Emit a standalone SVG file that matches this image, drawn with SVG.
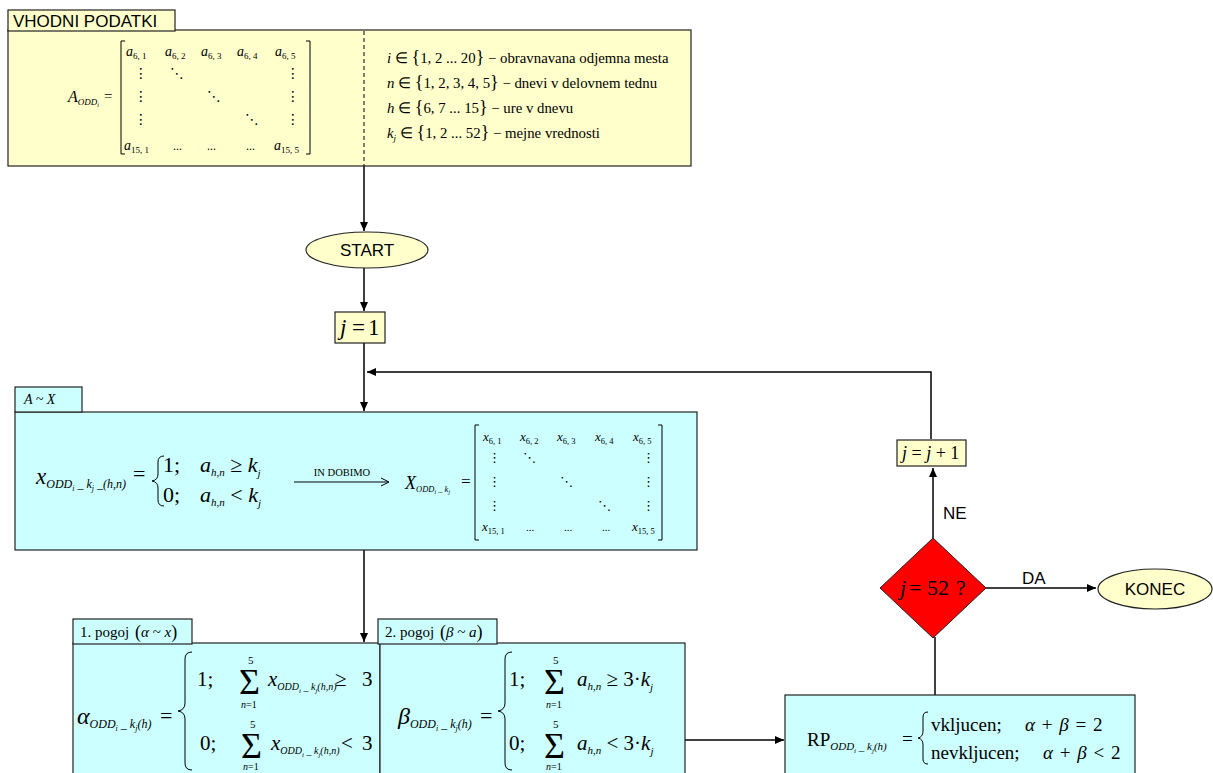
<svg xmlns="http://www.w3.org/2000/svg" width="1213" height="773" viewBox="0 0 1213 773">
<style>
.y{fill:#FFFFCC;stroke:#222;stroke-width:1.2}
.c{fill:#CCFFFF;stroke:#222;stroke-width:1.2}
.ln{fill:none;stroke:#000;stroke-width:1.5}
.br{fill:none;stroke:#000;stroke-width:1}
.m{font-family:"Liberation Serif","Times New Roman",serif;font-style:italic;fill:#000}
.r{font-family:"Liberation Serif","Times New Roman",serif;font-style:normal;fill:#000}
.s{font-family:"Liberation Sans",Arial,sans-serif;fill:#000}
.d{font-family:"DejaVu Sans",sans-serif;font-style:normal;fill:#000}
</style>
<defs>
<marker id="ah" markerWidth="10" markerHeight="10" refX="9" refY="5" orient="auto" markerUnits="userSpaceOnUse">
<path d="M0,1 L9,5 L0,9 Z" fill="#000"/>
</marker>
</defs>

<g id="connectors">
<line class="ln" x1="364" y1="166" x2="364" y2="231" marker-end="url(#ah)"/>
<line class="ln" x1="364" y1="268" x2="364" y2="311" marker-end="url(#ah)"/>
<line class="ln" x1="364" y1="343" x2="364" y2="411" marker-end="url(#ah)"/>
<polyline class="ln" points="931,439 931,372 367,372" marker-end="url(#ah)"/>
<line class="ln" x1="364" y1="550" x2="364" y2="642" marker-end="url(#ah)"/>
<line class="ln" x1="685" y1="740" x2="784" y2="740" marker-end="url(#ah)"/>
<line class="ln" x1="935" y1="695" x2="935" y2="637"/>
<line class="ln" x1="933" y1="538" x2="933" y2="468" marker-end="url(#ah)"/>
<line class="ln" x1="986" y1="588" x2="1096" y2="588" marker-end="url(#ah)"/>
<text class="s" x="943" y="519" font-size="17">NE</text>
<text class="s" x="1022" y="584" font-size="17">DA</text>
</g>

<g id="vhodni-podatki">
<rect class="y" x="8" y="30" width="683" height="136"/>
<rect class="y" x="8" y="10" width="167" height="21"/>
<text class="s" x="13" y="27" font-size="17">VHODNI PODATKI</text>
<line x1="364" y1="31" x2="364" y2="166" stroke="#000" stroke-width="1" stroke-dasharray="4,3"/>
<text class="m" x="68" y="102" font-size="16">A<tspan font-size="9" dy="3">ODD</tspan><tspan font-size="6" dy="2">i</tspan></text>
<text class="r" x="104" y="101" font-size="15">=</text>
<path class="br" d="M125,41 h-4 v113 h4 M306,41 h4 v113 h-4"/>
<g font-size="14">
<text class="m" x="126" y="56">a<tspan class="r" font-size="9" dy="3">6, 1</tspan></text>
<text class="m" x="165" y="56">a<tspan class="r" font-size="9" dy="3">6, 2</tspan></text>
<text class="m" x="201" y="56">a<tspan class="r" font-size="9" dy="3">6, 3</tspan></text>
<text class="m" x="237" y="56">a<tspan class="r" font-size="9" dy="3">6, 4</tspan></text>
<text class="m" x="275" y="56">a<tspan class="r" font-size="9" dy="3">6, 5</tspan></text>
<text class="m" x="124" y="150">a<tspan class="r" font-size="9" dy="3">15, 1</tspan></text>
<text class="r" x="173" y="150" font-size="12">...</text>
<text class="r" x="207" y="150" font-size="12">...</text>
<text class="r" x="246" y="150" font-size="12">...</text>
<text class="m" x="274" y="150">a<tspan class="r" font-size="9" dy="3">15, 5</tspan></text>
</g>
<g font-size="14">
<text class="d" x="134" y="78">⋮</text><text class="d" x="134" y="101">⋮</text><text class="d" x="134" y="124">⋮</text>
<text class="d" x="286" y="78">⋮</text><text class="d" x="286" y="101">⋮</text><text class="d" x="286" y="124">⋮</text>
<text class="d" x="170" y="78">⋱</text><text class="d" x="207" y="101">⋱</text><text class="d" x="245" y="124">⋱</text>
</g>
<g font-size="14.8">
<text class="r" x="387" y="63"><tspan class="m">i</tspan> ∈ <tspan font-size="18">{</tspan>1, 2 ... 20<tspan font-size="18">}</tspan> − obravnavana odjemna mesta</text>
<text class="r" x="387" y="88"><tspan class="m">n</tspan> ∈ <tspan font-size="18">{</tspan>1, 2, 3, 4, 5<tspan font-size="18">}</tspan> − dnevi  v delovnem tednu</text>
<text class="r" x="387" y="113"><tspan class="m">h</tspan> ∈ <tspan font-size="18">{</tspan>6, 7 ... 15<tspan font-size="18">}</tspan> − ure v dnevu</text>
<text class="r" x="387" y="138"><tspan class="m">k</tspan><tspan class="m" font-size="9" dy="3">j</tspan><tspan dy="-3"> ∈ </tspan><tspan font-size="18">{</tspan>1, 2 ... 52<tspan font-size="18">}</tspan> − mejne vrednosti</text>
</g>
</g>

<g id="start">
<ellipse class="y" cx="367" cy="250" rx="61" ry="18"/>
<text class="s" x="367" y="256" font-size="17" text-anchor="middle">START</text>
</g>

<g id="j-init">
<rect class="y" x="335" y="312" width="50" height="31"/>
<text class="m" x="340" y="335" font-size="23">j<tspan class="r" x="352">=</tspan><tspan class="r" x="368">1</tspan></text>
</g>

<g id="a-x">
<rect class="c" x="15" y="412" width="682" height="138"/>
<rect class="c" x="15" y="387" width="67" height="25"/>
<text class="m" x="24" y="404" font-size="14">A  ~  X</text>
<text class="m" x="36" y="484" font-size="23">x<tspan font-size="12" dy="4">ODD</tspan><tspan font-size="8" dy="3">i</tspan><tspan font-size="12" dy="-3"> _ k</tspan><tspan font-size="8" dy="3">j</tspan><tspan font-size="12" dy="-3"> _(h,n)</tspan></text>
<text class="r" x="133" y="481" font-size="22">=</text>
<path class="br" stroke-width="1.4" d="M164,456 q-6,0 -6,6 v12 q0,6 -6,7 q6,1 6,7 v12 q0,6 6,6"/>
<text class="r" x="163" y="472" font-size="22">1;</text>
<text class="m" x="200" y="472" font-size="22">a<tspan font-size="11" dy="4">h,n</tspan><tspan class="r" dy="-4"> ≥ </tspan>k<tspan font-size="11" dy="5">j</tspan></text>
<text class="r" x="163" y="502" font-size="22">0;</text>
<text class="m" x="200" y="502" font-size="22">a<tspan font-size="11" dy="4">h,n</tspan><tspan class="r" dy="-4"> &lt; </tspan>k<tspan font-size="11" dy="5">j</tspan></text>
<text class="r" x="342" y="476" font-size="10.5" text-anchor="middle">IN DOBIMO</text>
<line x1="294" y1="482" x2="388" y2="482" stroke="#000" stroke-width="1"/>
<path d="M381,478 L389,482 L381,486" fill="none" stroke="#000" stroke-width="1"/>
<text class="m" x="405" y="489" font-size="18">X<tspan font-size="8.5" dy="3">ODD</tspan><tspan font-size="6" dy="2">i</tspan><tspan font-size="8.5" dy="-2"> _ k</tspan><tspan font-size="6" dy="2">j</tspan></text>
<text class="r" x="461" y="487" font-size="17">=</text>
<path class="br" d="M479,425 h-4 v115 h4 M658,425 h4 v115 h-4"/>
<g font-size="13">
<text class="m" x="483" y="441">x<tspan class="r" font-size="8.5" dy="3">6, 1</tspan></text>
<text class="m" x="520" y="441">x<tspan class="r" font-size="8.5" dy="3">6, 2</tspan></text>
<text class="m" x="557" y="441">x<tspan class="r" font-size="8.5" dy="3">6, 3</tspan></text>
<text class="m" x="595" y="441">x<tspan class="r" font-size="8.5" dy="3">6, 4</tspan></text>
<text class="m" x="633" y="441">x<tspan class="r" font-size="8.5" dy="3">6, 5</tspan></text>
<text class="m" x="482" y="531">x<tspan class="r" font-size="8.5" dy="3">15, 1</tspan></text>
<text class="r" x="526" y="531" font-size="11">...</text>
<text class="r" x="564" y="531" font-size="11">...</text>
<text class="r" x="602" y="531" font-size="11">...</text>
<text class="m" x="632" y="531">x<tspan class="r" font-size="8.5" dy="3">15, 5</tspan></text>
</g>
<g font-size="13">
<text class="d" x="488" y="462">⋮</text><text class="d" x="488" y="486">⋮</text><text class="d" x="488" y="510">⋮</text>
<text class="d" x="642" y="462">⋮</text><text class="d" x="642" y="486">⋮</text><text class="d" x="642" y="510">⋮</text>
<text class="d" x="523" y="462">⋱</text><text class="d" x="560" y="486">⋱</text><text class="d" x="598" y="510">⋱</text>
</g>
</g>

<g id="pogoj-1">
<rect class="c" x="73" y="643" width="307" height="140"/>
<rect class="c" x="73" y="619" width="119" height="25"/>
<text class="r" x="80" y="637" font-size="15">1. pogoj</text>
<text class="r" x="135" y="638" font-size="18">(<tspan class="m" font-size="15" dy="-1">α ~ x</tspan><tspan dy="1">)</tspan></text>
<text class="m" x="77" y="724" font-size="24">α<tspan font-size="12" dy="4">ODD</tspan><tspan font-size="8" dy="3">i</tspan><tspan font-size="12" dy="-3"> _ k</tspan><tspan font-size="8" dy="3">j</tspan><tspan font-size="12" dy="-3">(h)</tspan></text>
<text class="r" x="160" y="723" font-size="22">=</text>
<path class="br" stroke-width="1.4" d="M192,652 q-7,0 -7,7 v44 q0,7 -7,8 q7,1 7,8 v44 q0,7 7,7"/>
<text class="r" x="197" y="686" font-size="21">1;</text>
<text class="r" x="239" y="694" font-size="36">Σ</text>
<text class="r" x="248" y="664" font-size="11">5</text>
<text class="m" x="241" y="708" font-size="10">n<tspan class="r">=1</tspan></text>
<text class="m" x="268" y="686" font-size="21">x<tspan font-size="10" dy="4">ODD</tspan><tspan font-size="7" dy="3">i</tspan><tspan font-size="10" dy="-3"> _ k</tspan><tspan font-size="7" dy="3">j</tspan><tspan font-size="10" dy="-3">(h,n)</tspan></text>
<text class="r" x="335" y="686" font-size="21">≥</text>
<text class="r" x="362" y="686" font-size="21">3</text>
<text class="r" x="200" y="750" font-size="21">0;</text>
<text class="r" x="241" y="758" font-size="36">Σ</text>
<text class="r" x="250" y="728" font-size="11">5</text>
<text class="m" x="243" y="770" font-size="10">n<tspan class="r">=1</tspan></text>
<text class="m" x="271" y="750" font-size="21">x<tspan font-size="10" dy="4">ODD</tspan><tspan font-size="7" dy="3">i</tspan><tspan font-size="10" dy="-3"> _ k</tspan><tspan font-size="7" dy="3">j</tspan><tspan font-size="10" dy="-3">(h,n)</tspan></text>
<text class="r" x="341" y="750" font-size="21">&lt;</text>
<text class="r" x="362" y="750" font-size="21">3</text>
</g>

<g id="pogoj-2">
<rect class="c" x="380" y="643" width="305" height="140"/>
<rect class="c" x="378" y="619" width="119" height="25"/>
<text class="r" x="385" y="637" font-size="15">2. pogoj</text>
<text class="r" x="440" y="638" font-size="18">(<tspan class="m" font-size="15" dy="-1">β ~ a</tspan><tspan dy="1">)</tspan></text>
<text class="m" x="398" y="724" font-size="24">β<tspan font-size="12" dy="4">ODD</tspan><tspan font-size="8" dy="3">i</tspan><tspan font-size="12" dy="-3"> _ k</tspan><tspan font-size="8" dy="3">j</tspan><tspan font-size="12" dy="-3">(h)</tspan></text>
<text class="r" x="480" y="723" font-size="22">=</text>
<path class="br" stroke-width="1.4" d="M512,652 q-7,0 -7,7 v44 q0,7 -7,8 q7,1 7,8 v44 q0,7 7,7"/>
<text class="r" x="509" y="686" font-size="21">1;</text>
<text class="r" x="544" y="694" font-size="36">Σ</text>
<text class="r" x="553" y="664" font-size="11">5</text>
<text class="m" x="546" y="708" font-size="10">n<tspan class="r">=1</tspan></text>
<text class="m" x="577" y="686" font-size="21">a<tspan font-size="11" dy="4">h,n</tspan><tspan class="r" dy="-4"> ≥ 3·</tspan>k<tspan font-size="11" dy="5">j</tspan></text>
<text class="r" x="509" y="750" font-size="21">0;</text>
<text class="r" x="544" y="758" font-size="36">Σ</text>
<text class="r" x="553" y="728" font-size="11">5</text>
<text class="m" x="546" y="770" font-size="10">n<tspan class="r">=1</tspan></text>
<text class="m" x="577" y="750" font-size="21">a<tspan font-size="11" dy="4">h,n</tspan><tspan class="r" dy="-4"> &lt; 3·</tspan>k<tspan font-size="11" dy="5">j</tspan></text>
</g>

<g id="rp">
<rect class="c" x="785" y="695" width="350" height="90"/>
<text class="r" x="807" y="746" font-size="19">RP<tspan class="m" font-size="11" dy="4">ODD</tspan><tspan class="m" font-size="7" dy="3">i</tspan><tspan class="m" font-size="11" dy="-3"> _ k</tspan><tspan class="m" font-size="7" dy="3">j</tspan><tspan class="m" font-size="11" dy="-3">(h)</tspan></text>
<text class="r" x="902" y="745" font-size="19">=</text>
<path class="br" stroke-width="1.3" d="M928,712 q-5,0 -5,5 v14 q0,6 -5,7 q5,1 5,7 v14 q0,5 5,5"/>
<text class="r" x="931" y="731" font-size="19">vkljucen;</text>
<text class="m" x="1025" y="731" font-size="19" word-spacing="2">α<tspan class="r"> + </tspan>β<tspan class="r"> = 2</tspan></text>
<text class="r" x="931" y="759" font-size="19">nevkljucen;</text>
<text class="m" x="1043" y="759" font-size="19" word-spacing="2">α<tspan class="r"> + </tspan>β<tspan class="r"> &lt; 2</tspan></text>
</g>

<g id="decision">
<polygon points="933,538 986,588 933,638 880,588" fill="#FF0000" stroke="#222" stroke-width="1"/>
<text class="m" x="900" y="595" font-size="22">j<tspan class="r" x="909">=</tspan><tspan class="r" x="927">52</tspan><tspan class="r" x="956">?</tspan></text>
</g>

<g id="j-incr">
<rect class="y" x="897" y="440" width="69" height="26"/>
<text class="m" x="902" y="459" font-size="18">j<tspan class="r"> = </tspan>j<tspan class="r"> + 1</tspan></text>
</g>

<g id="konec">
<ellipse class="y" cx="1155" cy="589" rx="57" ry="20"/>
<text class="s" x="1155" y="595" font-size="17" text-anchor="middle">KONEC</text>
</g>
</svg>
